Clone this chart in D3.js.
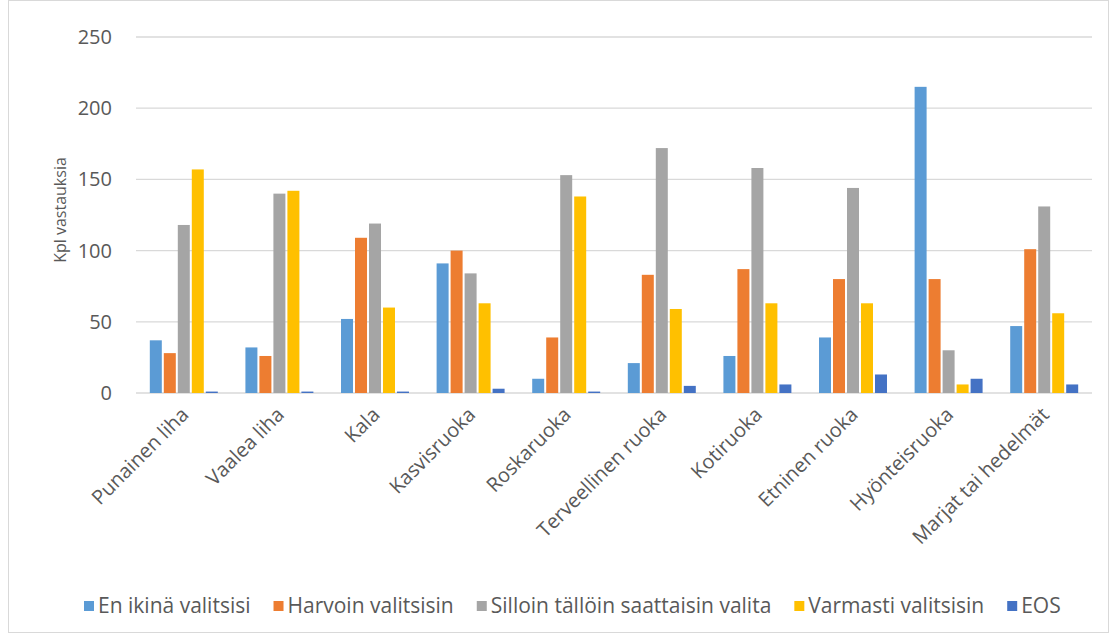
<!DOCTYPE html>
<meta charset="utf-8">
<style>
    body { margin: 0; background: #fff; }
    text { font-family: "Open Sans", "Noto Sans", sans-serif; fill: #595959; }
    .grid line { stroke: #d9d9d9; stroke-width: 1.3px; }
</style>
<svg width="1120" height="641"></svg>
<script src="https://d3js.org/d3.v7.min.js"></script>
<script>

    var categories = ["Punainen liha", "Vaalea liha", "Kala", "Kasvisruoka", "Roskaruoka",
        "Terveellinen ruoka", "Kotiruoka", "Etninen ruoka", "Hyönteisruoka", "Marjat tai hedelmät"];

    var seriesNames = ["En ikinä valitsisi", "Harvoin valitsisin", "Silloin tällöin saattaisin valita",
        "Varmasti valitsisin", "EOS"];

    var enIkina   = [37, 32, 52, 91, 10, 21, 26, 39, 215, 47];
    var harvoin   = [28, 26, 109, 100, 39, 83, 87, 80, 80, 101];
    var silloin   = [118, 140, 119, 84, 153, 172, 158, 144, 30, 131];
    var varmasti  = [157, 142, 60, 63, 138, 59, 63, 63, 6, 56];
    var eos       = [1, 1, 1, 3, 1, 5, 6, 13, 10, 6];

    var yTicks = [0, 50, 100, 150, 200, 250];
    var colors = ["#5b9bd5", "#ed7d31", "#a5a5a5", "#ffc000", "#4472c4"];

    var seriesValues = [enIkina, harvoin, silloin, varmasti, eos];

    var svg = d3.select("svg");

    // outer chart frame
    svg.append("rect")
        .attr("x", 8.5).attr("y", 0.5)
        .attr("width", 1100).attr("height", 632)
        .attr("fill", "none").attr("stroke", "#d9d9d9");

    var plotLeft = 136, plotRight = 1092, plotTop = 37, plotBottom = 393;

    var x = d3.scaleBand().domain(categories).range([plotLeft, plotRight]).paddingInner(0.268).paddingOuter(0.134);
    var xs = d3.scaleBand().domain(d3.range(seriesNames.length)).range([0, x.bandwidth()]);
    var y = d3.scaleLinear().domain([0, 250]).range([plotBottom, plotTop]);

    var grid = svg.append("g").attr("class", "grid");
    grid.selectAll("line").data(yTicks).enter().append("line")
        .attr("x1", plotLeft).attr("x2", plotRight)
        .attr("y1", function(d) { return y(d); })
        .attr("y2", function(d) { return y(d); });

    svg.append("g").selectAll("text").data(yTicks).enter().append("text")
        .attr("x", 112).attr("y", function(d) { return y(d); })
        .attr("dy", "0.35em")
        .attr("text-anchor", "end")
        .style("font-size", "20px")
        .text(function(d) { return d; });

    var groups = svg.append("g").selectAll("g").data(seriesValues).enter().append("g")
        .attr("fill", function(d, i) { return colors[i]; });

    groups.each(function(vals, si) {
        d3.select(this).selectAll("rect").data(vals).enter().append("rect")
            .attr("x", function(d, ci) { return x(categories[ci]) + xs(si) + 1; })
            .attr("width", xs.bandwidth() - 2)
            .attr("y", function(d) { return y(d); })
            .attr("height", function(d) { return y(0) - y(d); });
    });

    // category labels
    svg.append("g").selectAll("text").data(categories).enter().append("text")
        .attr("transform", function(d) {
            return "translate(" + (x(d) + x.bandwidth() / 2 + 6) + "," + 416 + ") rotate(-45)";
        })
        .attr("text-anchor", "end")
        .style("font-size", "20px")
        .text(function(d) { return d; });

    svg.append("text")
        .attr("transform", "translate(66,210) rotate(-90)")
        .attr("text-anchor", "middle")
        .style("font-size", "16px")
        .text("Kpl vastauksia");

    // legend
    var legend = svg.append("g").attr("transform", "translate(0,606)");
    var lx = 84;
    seriesNames.forEach(function(name, i) {
        var g = legend.append("g").attr("transform", "translate(" + lx + ",0)");
        g.append("rect").attr("x", 0).attr("y", -5).attr("width", 10).attr("height", 10).attr("fill", colors[i]);
        var t = g.append("text").attr("x", 14).attr("dy", "0.35em").style("font-size", "21px").text(name);
        lx += 14 + t.node().getComputedTextLength() + 23;
    });

</script>
